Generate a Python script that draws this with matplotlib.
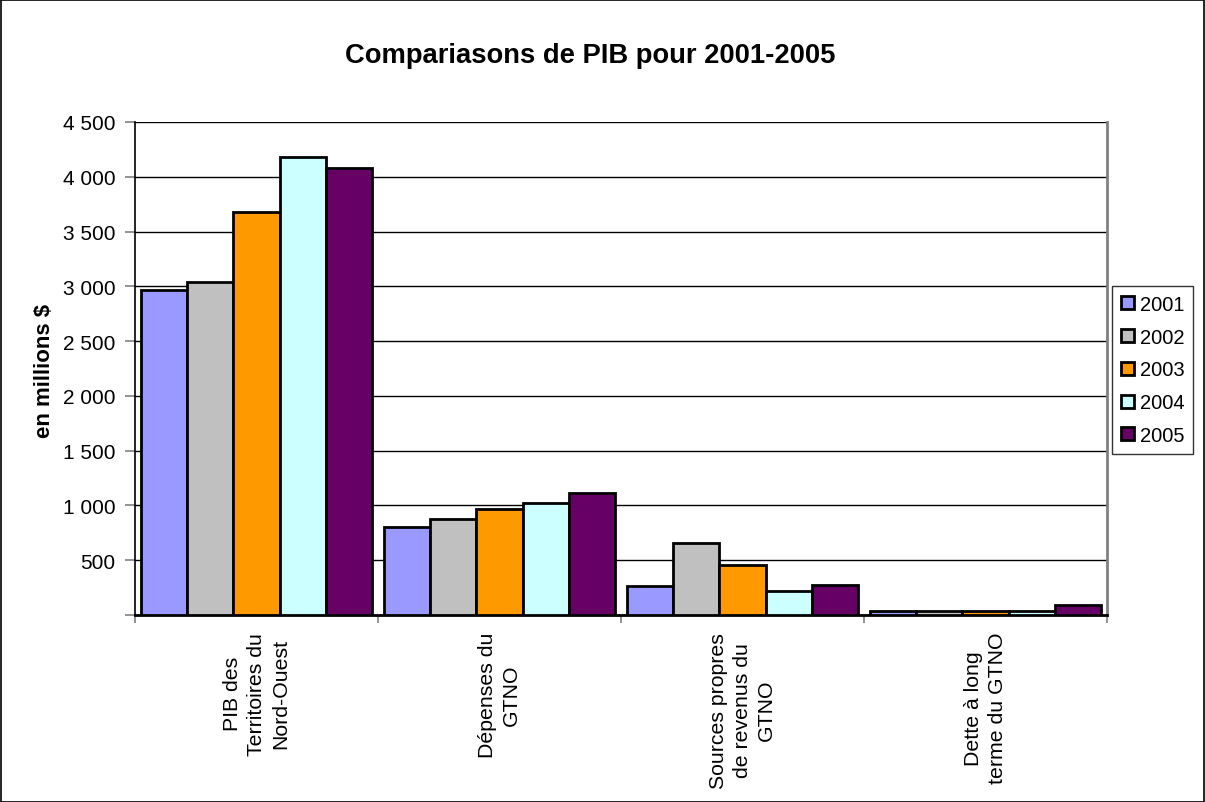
import matplotlib
matplotlib.use("Agg")
import matplotlib.pyplot as plt
import numpy as np
from matplotlib.patches import Rectangle

categories = ["PIB des\nTerritoires du\nNord-Ouest", "Dépenses du\nGTNO",
              "Sources propres\nde revenus du\nGTNO", "Dette à long\nterme du GTNO"]
years = ["2001", "2002", "2003", "2004", "2005"]
values = {
    "2001": [2970, 803, 269, 32],
    "2002": [3035, 872, 653, 34],
    "2003": [3683, 972, 452, 35],
    "2004": [4176, 1022, 219, 36],
    "2005": [4080, 1118, 274, 88],
}
colors = ["#9999FF", "#C0C0C0", "#FF9900", "#CCFFFF", "#660066"]
yticks = [0, 500, 1000, 1500, 2000, 2500, 3000, 3500, 4000, 4500]
ytick_labels = ["", "500", "1 000", "1 500", "2 000", "2 500", "3 000", "3 500", "4 000", "4 500"]

plt.rcParams["font.family"] = ["Liberation Sans", "DejaVu Sans"]

fig = plt.figure(figsize=(12.05, 8.03), dpi=100)
W, H = 1205, 803
ax = fig.add_axes([135 / W, 1 - 616 / H, (1107 - 135) / W, (616 - 123) / H])

n = len(years)
bar_w = 0.19
x = np.arange(len(categories))
for i, yr in enumerate(years):
    ax.bar(x + (i - (n - 1) / 2) * bar_w, values[yr], width=bar_w,
           color=colors[i], edgecolor="black", linewidth=2, label=yr, zorder=3)

ax.set_xlim(-0.5, len(categories) - 0.5)
ax.set_ylim(0, 4500)
ax.set_yticks(yticks)
ax.set_yticklabels(ytick_labels, fontsize=15)
ax.yaxis.grid(True, color="black", linewidth=1, zorder=0)
ax.set_axisbelow(True)

ax.set_xticks(np.arange(len(categories) + 1) - 0.5)
ax.set_xticklabels([])
ax.tick_params(axis="x", length=6, width=1.2, direction="out", color="#808080")
ax.tick_params(axis="y", length=7, width=1.2, direction="out", color="#808080", pad=7)

for xi, cat in zip(x, categories):
    ax.text(xi, -0.034, cat, transform=ax.get_xaxis_transform(), rotation=90,
            ha="center", va="top", multialignment="center", fontsize=15.3,
            linespacing=1.35)

ax.spines["top"].set_visible(False)
ax.spines["right"].set_color("#808080")
ax.spines["right"].set_linewidth(2)
ax.spines["left"].set_color("black")
ax.spines["left"].set_linewidth(1.2)
ax.spines["bottom"].set_color("black")
ax.spines["bottom"].set_linewidth(2)

ax.set_ylabel("en millions $", fontsize=16, fontweight="bold")
ax.yaxis.set_label_coords(44 / W, 1 - 371 / H, transform=fig.transFigure)
ax.yaxis.label.set_verticalalignment("center")

fig.text(590 / W, 1 - 56 / H, "Compariasons de PIB pour 2001-2005",
         ha="center", va="center", fontsize=19.7, fontweight="bold")

leg = fig.legend(loc="upper left", bbox_to_anchor=(1112 / W, 1 - 287 / H),
                 fontsize=14.5, frameon=True, fancybox=False, edgecolor="black",
                 handlelength=0.62, handleheight=0.62, handletextpad=0.3,
                 labelspacing=0.68, borderpad=0.45, borderaxespad=0)
leg.get_frame().set_linewidth(1)
for h in leg.legend_handles:
    h.set_linewidth(2)

fig.patches.append(Rectangle((0.5 / W, 0.5 / H), 1 - 1.5 / W, 1 - 1.5 / H,
                             transform=fig.transFigure, fill=False,
                             edgecolor="black", linewidth=1.2))

fig.savefig("out.png", dpi=100)
